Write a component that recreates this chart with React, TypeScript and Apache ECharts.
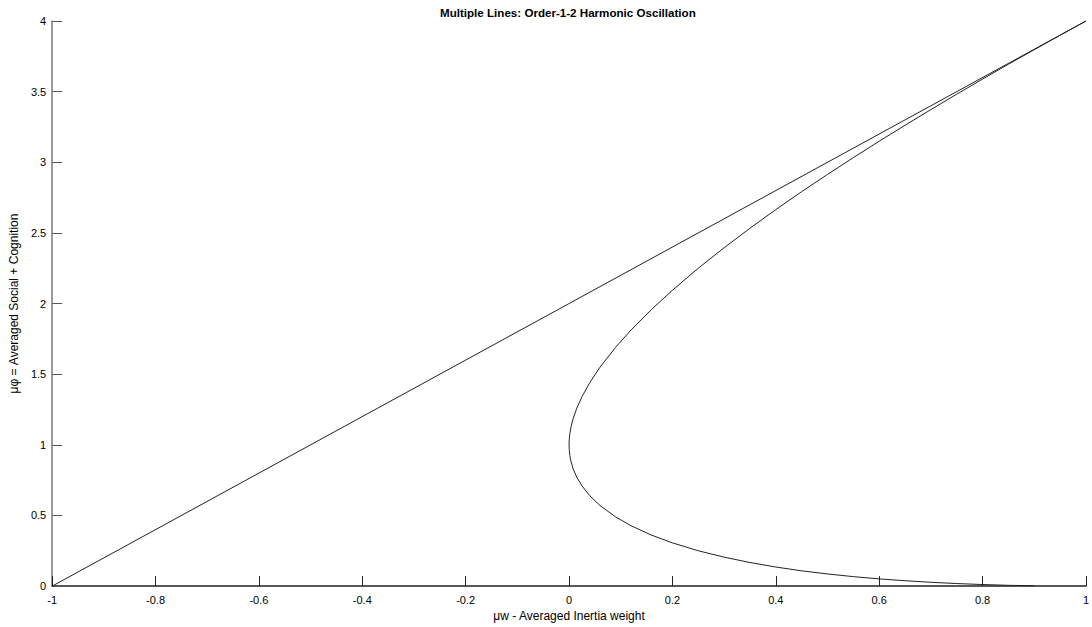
import React, { useEffect, useRef } from "react";
import * as echarts from "echarts";

const titleText = "Multiple Lines: Order-1-2 Harmonic Oscillation";
const xAxisName = "μw - Averaged Inertia weight";
const yAxisName = "μφ = Averaged Social + Cognition";

// Straight boundary line
const lineX = [-1, 1];
const lineY = [0, 4];

// Curved boundary (upper branch -> vertex -> lower branch)
const curveX = [
  1.0, 0.95, 0.9, 0.85, 0.8, 0.75, 0.7, 0.65, 0.6, 0.55, 0.5, 0.45, 0.4, 0.35, 0.3, 0.25,
  0.2, 0.16, 0.12, 0.09, 0.06, 0.04, 0.025, 0.015, 0.008, 0.004, 0.0015, 0.0003, 0.0,
  0.0003, 0.0015, 0.004, 0.008, 0.015, 0.025, 0.04, 0.06, 0.09, 0.12, 0.16, 0.2, 0.25,
  0.3, 0.35, 0.4, 0.45, 0.5, 0.55, 0.6, 0.65, 0.7, 0.75, 0.8, 0.85, 0.9,
];
const curveY = [
  4.0, 3.899, 3.797, 3.694, 3.589, 3.482, 3.373, 3.262, 3.149, 3.033, 2.914, 2.792, 2.665,
  2.533, 2.395, 2.25, 2.094, 1.96, 1.813, 1.69, 1.55, 1.44, 1.341, 1.26, 1.187, 1.13, 1.079,
  1.035, 1.0,
  0.966, 0.924, 0.878, 0.829, 0.77, 0.709, 0.64, 0.57, 0.49, 0.427, 0.36, 0.306, 0.25,
  0.205, 0.167, 0.135, 0.108, 0.086, 0.067, 0.051, 0.038, 0.027, 0.018, 0.011, 0.0055, 0.0026,
];

export default function App() {
  const ref = useRef<HTMLDivElement>(null);
  useEffect(() => {
    document.body.style.margin = "0";
    const chart = echarts.init(ref.current!, undefined, { renderer: "svg" });
    const font = "Liberation Sans, Arial, sans-serif";
    chart.setOption({
      animation: false,
      backgroundColor: "#ffffff",
      title: {
        text: titleText,
        left: 440,
        top: 6,
        padding: 0,
        textStyle: { fontSize: 11.6, fontWeight: "bold", color: "#000", fontFamily: font },
      },
      grid: { left: 44, right: 0, top: 21, bottom: 37, containLabel: false },
      xAxis: {
        type: "value",
        min: -1,
        max: 1,
        interval: 0.2,
        name: xAxisName,
        nameLocation: "middle",
        nameGap: 21,
        nameTextStyle: { fontSize: 12, color: "#000", fontFamily: font },
        axisLine: { show: true, onZero: false, lineStyle: { color: "#222", width: 1.5 } },
        axisTick: { show: true, inside: true, length: 10, lineStyle: { color: "#222", width: 1 } },
        axisLabel: { fontSize: 11, color: "#000", margin: 8, fontFamily: font, showMaxLabel: true },
        splitLine: { show: false },
      },
      yAxis: {
        type: "value",
        min: 0,
        max: 4,
        interval: 0.5,
        name: yAxisName,
        nameLocation: "middle",
        nameGap: 20,
        nameRotate: 90,
        nameTextStyle: { fontSize: 12, color: "#000", fontFamily: font },
        axisLine: { show: true, onZero: false, lineStyle: { color: "#777", width: 1.5 } },
        axisTick: { show: true, inside: true, length: 10, lineStyle: { color: "#555", width: 1 } },
        axisLabel: { fontSize: 11, color: "#000", margin: 6, fontFamily: font },
        splitLine: { show: false },
      },
      series: [
        {
          type: "line",
          data: lineX.map((x, i) => [x, lineY[i]]),
          showSymbol: false,
          lineStyle: { color: "#222", width: 1 },
        },
        {
          type: "line",
          data: curveX.map((x, i) => [x, curveY[i]]),
          showSymbol: false,
          lineStyle: { color: "#222", width: 1 },
        },
      ],
    });
    return () => chart.dispose();
  }, []);
  return <div ref={ref} style={{ width: 1092, height: 627 }} />;
}
